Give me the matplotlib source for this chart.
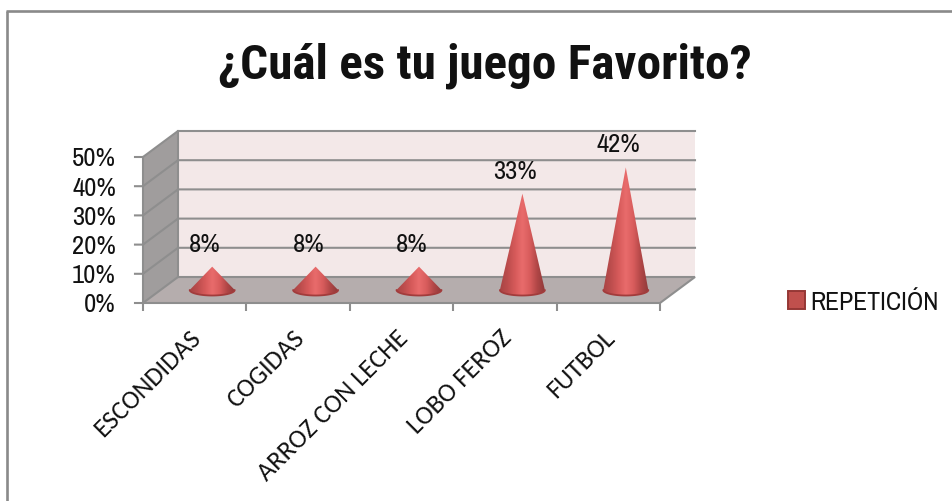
import numpy as np
import matplotlib
matplotlib.use("Agg")
import matplotlib.pyplot as plt
from matplotlib.patches import Polygon, Patch, PathPatch
from matplotlib.path import Path
from matplotlib.colors import LinearSegmentedColormap

title = "¿Cuál es tu juego Favorito?"
categories = ["ESCONDIDAS", "COGIDAS", "ARROZ CON LECHE", "LOBO FEROZ", "FUTBOL"]
values = [8, 8, 8, 33, 42]
y_ticks = [0, 10, 20, 30, 40, 50]
series_name = "REPETICIÓN"

W, H = 953, 502
X0, CW, Y0, K = 143.0, 103.4, 304.0, 2.92
DX, DY = 35.0 / CW, 26.0 / K
titlefont = ["Roboto Condensed", "Liberation Sans"]
narrow = ["Archivo Narrow", "Roboto Condensed", "Liberation Sans"]
labelfont = ["Carlito", "Open Sans"]
GRID = "#8e8e8e"

fig = plt.figure(figsize=(W / 100, H / 100), dpi=100)
ax = fig.add_axes([0, 0, 1, 1])
ax.set_axis_off()
xlim = (-X0 / CW, (W - X0) / CW)
ylim = ((Y0 - H) / K, Y0 / K)


def P(c, v, d=0.0):
    return (c + DX * d, v + DY * d)


n = len(categories)
top = y_ticks[-1]

# chart frame: only left and top edges show
ax.plot([7 / CW + xlim[0], 7 / CW + xlim[0]], [ylim[0], (Y0 - 12) / K], color="#8a8a8a", lw=1.9, zorder=1, solid_capstyle="butt")
ax.plot([xlim[0] + 6 / CW, xlim[1]], [(Y0 - 12) / K] * 2, color="#8a8a8a", lw=1.9, zorder=1, solid_capstyle="butt")

# walls and floor
ax.add_patch(Polygon([P(0, 0, 1), P(n, 0, 1), P(n, top, 1), P(0, top, 1)], fc="#f3e8e8", ec="none", zorder=2))
ax.add_patch(Polygon([P(0, 0, 0), P(0, 0, 1), P(0, top, 1), P(0, top, 0)], fc="#a09d9d", ec="none", zorder=2))
ax.add_patch(Polygon([P(0, 0, 0), P(n, 0, 0), P(n, 0, 1), P(0, 0, 1)], fc="#b5adad", ec="none", zorder=2))

# gridlines
for t in y_ticks:
    pts = [P(-8 / CW, t, 0), P(0, t, 0), P(0, t, 1), P(n, t, 1)]
    if t == 0:
        pts.append(P(n, 0, 0))
        pts.append(P(0, 0, 0))
    ax.plot(*zip(*pts), color=GRID, lw=1.5, zorder=3, solid_joinstyle="miter")
    ax.text(*P(-27 / CW, t - 0.3, 0), f"{t}%", ha="right", va="center", fontsize=19.2, family=narrow, color="#111111", zorder=6)
ax.plot(*zip(P(0, 0, 0), P(0, top, 0)), color=GRID, lw=1.5, zorder=3)
ax.plot(*zip(P(0, 0, 1), P(0, top, 1)), color=GRID, lw=1.5, zorder=3)

# x ticks
for i in range(n + 1):
    ax.plot([i, i], [0, -8 / K], color=GRID, lw=1.5, zorder=3, solid_capstyle="butt")

# cones
cmap = LinearSegmentedColormap.from_list(
    "cone", ["#a84444", "#bc4d4d", "#d65a5a", "#e96c6c", "#d85c5c", "#b04646", "#8e3a3a"]
)
grad = np.linspace(0, 1, 128).reshape(1, -1)
half_w = 22.5 / CW
half_h = 5.5 / K
for i, v in enumerate(values):
    cx, cy = P(i + 0.5, 0, 0.5)
    th = np.linspace(np.pi, 2 * np.pi, 40)
    arc = np.column_stack([cx + half_w * np.cos(th), cy + half_h * np.sin(th)])
    verts = np.vstack([[cx, cy + v], arc, [[cx, cy + v]]])
    codes = [Path.MOVETO] + [Path.LINETO] * (len(verts) - 2) + [Path.CLOSEPOLY]
    clip = PathPatch(Path(verts, codes), transform=ax.transData, fc="none", ec="none")
    ax.add_patch(clip)
    im = ax.imshow(grad, cmap=cmap, extent=(cx - half_w, cx + half_w, cy - half_h, cy + v),
                   aspect="auto", zorder=4, interpolation="bilinear")
    im.set_clip_path(clip)
    ax.plot(arc[:, 0], arc[:, 1], color="#a23c3c", lw=1.3, zorder=5, solid_capstyle="round")
    lx, ly = P(i + 0.5, v, 0.3)
    ax.text(lx, cy + v + 23.5 / K, f"{v}%", ha="center", va="center", fontsize=19.2,
            family=narrow, color="#111111", zorder=6)
    # category label
    ax.text(i + 0.5 - 6 / CW, -22 / K, categories[i], rotation=45, rotation_mode="anchor",
            ha="right", va="top", fontsize=19, family=labelfont, color="#111111", zorder=6)

ax.set_xlim(*xlim)
ax.set_ylim(*ylim)

fig.text(485 / W, 1 - 66 / H, title, ha="center", va="center", fontsize=35.5,
         family=titlefont, fontweight="bold", color="#111111")

leg = ax.legend(handles=[Patch(fc="#c0504d", ec="#953735", lw=1.4, label=series_name)],
                loc="center left", bbox_to_anchor=(788 / W, 1 - 302 / H), frameon=False,
                prop={"family": narrow, "size": 18.5}, borderpad=0, borderaxespad=0,
                handlelength=0.66, handleheight=0.7, handletextpad=0.2, labelcolor="#111111")

fig.savefig("out.png", dpi=100, facecolor="white")
